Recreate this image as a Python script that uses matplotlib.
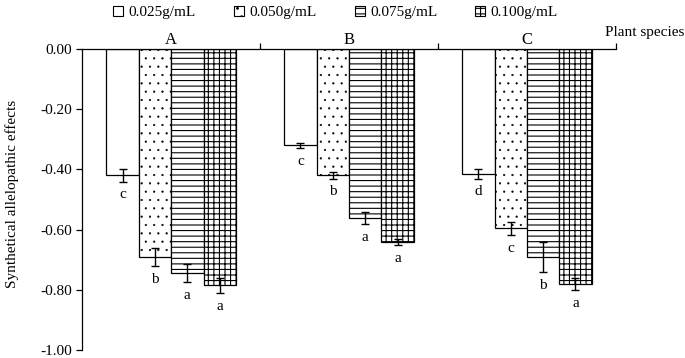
import numpy as np
import matplotlib
matplotlib.use("Agg")
import matplotlib.pyplot as plt
from matplotlib.patches import Patch
from matplotlib.ticker import FuncFormatter

plt.rcParams['font.family'] = ['Liberation Serif', 'DejaVu Serif']
plt.rcParams['font.size'] = 11
plt.rcParams['hatch.linewidth'] = 0.8

species = ['A', 'B', 'C']
concentrations = ['0.025g/mL', '0.050g/mL', '0.075g/mL', '0.100g/mL']
# rows: concentration, cols: species
values = [
    [-0.42, -0.32, -0.415],
    [-0.69, -0.42, -0.595],
    [-0.745, -0.56, -0.69],
    [-0.785, -0.64, -0.78],
]
errors = [
    [0.02, 0.008, 0.015],
    [0.03, 0.01, 0.022],
    [0.03, 0.02, 0.05],
    [0.025, 0.01, 0.02],
]
letters = [
    ['c', 'c', 'd'],
    ['b', 'b', 'c'],
    ['a', 'a', 'b'],
    ['a', 'a', 'a'],
]
hatches = ['', '..', '---', '+++']
hatch_lw = [0.8, 0.35, 0.8, 0.8]


def set_hlw(patch, lw):
    if hasattr(patch, 'set_hatch_linewidth'):
        patch.set_hatch_linewidth(lw)


fig = plt.figure(figsize=(6.85, 3.58), dpi=100)
ax = fig.add_axes([0.12, 0.022, 0.779, 0.841])

width = 0.182
centers = np.arange(len(species)) + 0.5
for k in range(len(concentrations)):
    xs = centers + (k - 1.5) * width
    with plt.rc_context({'hatch.linewidth': hatch_lw[k]}):
        bars = ax.bar(xs, values[k], width=width, color='white', edgecolor='black',
                      linewidth=0.9, hatch=hatches[k], zorder=2)
    for b in bars:
        set_hlw(b, hatch_lw[k])
    ax.errorbar(xs, values[k], yerr=errors[k], fmt='none', ecolor='black',
                elinewidth=1, capsize=3, capthick=1, zorder=3)
    for j, x in enumerate(xs):
        ax.annotate(letters[k][j], (x, values[k][j] - errors[k][j]),
                    xytext=(0, -5), textcoords='offset points',
                    ha='center', va='top', fontsize=11)

for j, name in enumerate(species):
    ax.annotate(name, (centers[j], 0), xytext=(0, 1), textcoords='offset points',
                ha='center', va='bottom', fontsize=12)

ax.set_xlim(0, 3)
ax.set_ylim(-1.0, 0.0)
ax.set_yticks(np.arange(-1.0, 0.01, 0.2))
ax.yaxis.set_major_formatter(FuncFormatter(lambda v, p: f'{v + 0.0:.2f}'.replace('-0.00', '0.00')))
ax.xaxis.tick_top()
ax.set_xticks([1, 2, 3])
ax.set_xticklabels([])
ax.tick_params(axis='x', direction='out', length=4, width=0.9)
ax.tick_params(axis='y', direction='out', length=4, width=0.9, labelsize=11, pad=3)
ax.spines['bottom'].set_visible(False)
ax.spines['right'].set_visible(False)
ax.spines['top'].set_linewidth(0.9)
ax.spines['left'].set_linewidth(0.9)
ax.set_ylabel('Synthetical allelopathic effects', fontsize=11)
ax.yaxis.set_label_coords(-0.118, 0.52)

fig.text(0.999, 0.908, 'Plant species', ha='right', va='center', fontsize=11)

handles = []
for h, lw in zip(hatches, hatch_lw):
    p = Patch(facecolor='white', edgecolor='black', hatch=h, linewidth=0.8)
    set_hlw(p, lw)
    handles.append(p)
fig.legend(handles, concentrations, loc='center', bbox_to_anchor=(0.49, 0.965),
           ncol=4, frameon=False, handlelength=0.65, handleheight=0.65,
           handletextpad=0.35, columnspacing=2.5, fontsize=11)

fig.savefig('out.png', dpi=100)
